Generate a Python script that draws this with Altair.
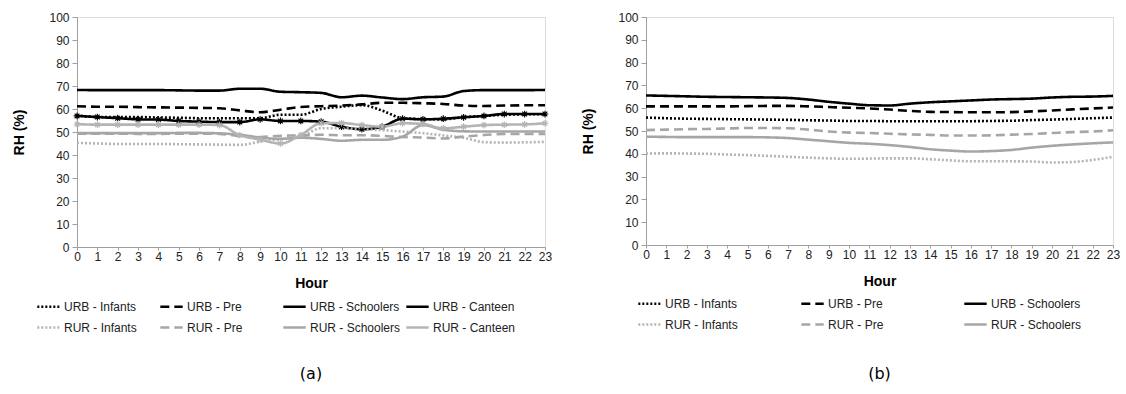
import altair as alt
import pandas as pd

hours = list(range(24))

series_a = ["URB - Infants", "URB - Pre", "URB - Schoolers", "URB - Canteen",
            "RUR - Infants", "RUR - Pre", "RUR - Schoolers", "RUR - Canteen"]
series_b = ["URB - Infants", "URB - Pre", "URB - Schoolers",
            "RUR - Infants", "RUR - Pre", "RUR - Schoolers"]

# Panel (a)
urb_inf_a = [57.3, 56.5, 56.5, 56.5, 56.3, 56.2, 56.0, 56.0, 56.0, 56.0, 57.5, 57.5,
             60.0, 61.0, 61.7, 59.3, 56.0, 55.6, 55.5, 56.4, 57.0, 57.5, 57.7, 57.7]
urb_pre_a = [61.2, 61.0, 61.0, 60.8, 60.7, 60.6, 60.5, 60.3, 59.4, 58.6, 59.7, 60.9,
             61.2, 61.5, 62.0, 62.7, 62.7, 62.5, 62.2, 61.5, 61.3, 61.5, 61.6, 61.6]
urb_sch_a = [68.3, 68.2, 68.2, 68.2, 68.2, 68.1, 68.0, 68.0, 68.8, 68.8, 67.5, 67.3,
             67.0, 65.1, 65.8, 65.0, 64.3, 65.1, 65.4, 67.8, 68.2, 68.2, 68.2, 68.3]
urb_can_a = [57.0, 56.5, 56.0, 55.5, 55.4, 54.8, 54.5, 54.3, 54.3, 55.5, 54.8, 54.8,
             54.5, 52.3, 51.2, 52.3, 55.8, 55.5, 55.8, 56.4, 57.0, 57.8, 57.8, 57.8]
rur_inf_a = [45.3, 45.0, 44.8, 44.8, 44.8, 44.7, 44.6, 44.5, 44.4, 45.8, 46.9, 48.0,
             51.6, 51.6, 51.2, 50.8, 50.2, 49.5, 48.5, 47.5, 45.6, 45.4, 45.5, 45.7]
rur_pre_a = [49.3, 49.3, 49.3, 49.2, 49.2, 49.3, 49.3, 49.2, 48.2, 47.8, 48.4, 48.5,
             48.8, 48.6, 48.6, 48.3, 47.8, 47.6, 47.2, 48.0, 48.7, 49.1, 49.1, 49.1]
rur_sch_a = [49.5, 49.5, 49.5, 49.5, 49.5, 49.6, 49.6, 49.4, 48.8, 47.6, 47.0, 47.5,
             47.0, 46.2, 46.6, 46.6, 48.0, 53.0, 51.0, 50.3, 50.2, 50.2, 50.2, 50.2]
rur_can_a = [53.4, 53.2, 53.2, 53.2, 53.2, 53.2, 53.2, 53.0, 48.6, 46.7, 45.0, 48.7,
             53.8, 53.9, 53.0, 52.3, 53.8, 53.5, 51.6, 52.3, 53.0, 53.2, 53.3, 53.8]

# Panel (b)
urb_inf_b = [55.9, 55.6, 55.4, 55.3, 55.2, 55.1, 55.0, 54.9, 54.7, 54.6, 54.4, 54.4,
             54.3, 54.3, 54.3, 54.3, 54.3, 54.4, 54.5, 54.8, 55.0, 55.3, 55.6, 55.9]
urb_pre_b = [60.8, 60.8, 60.8, 60.8, 60.8, 60.9, 61.0, 61.0, 60.8, 60.5, 60.2, 59.9,
             59.4, 58.8, 58.4, 58.3, 58.2, 58.2, 58.3, 58.6, 59.0, 59.5, 59.9, 60.3]
urb_sch_b = [65.6, 65.4, 65.2, 65.0, 64.9, 64.8, 64.7, 64.5, 63.8, 62.8, 62.0, 61.3,
             61.2, 62.0, 62.6, 63.0, 63.4, 63.8, 64.0, 64.2, 64.7, 65.0, 65.1, 65.4]
rur_inf_b = [40.1, 40.2, 40.1, 40.0, 39.7, 39.4, 39.1, 38.7, 38.3, 38.0, 37.8, 37.9,
             38.0, 38.0, 37.6, 37.1, 36.7, 36.7, 36.7, 36.6, 36.2, 36.4, 37.3, 38.7]
rur_pre_b = [50.4, 50.6, 50.8, 50.9, 51.1, 51.3, 51.3, 51.2, 50.6, 49.8, 49.3, 49.1,
             48.8, 48.5, 48.3, 48.0, 48.0, 48.1, 48.4, 48.7, 49.1, 49.5, 49.8, 50.3]
rur_sch_b = [47.5, 47.4, 47.3, 47.3, 47.3, 47.3, 47.2, 46.9, 46.2, 45.5, 44.8, 44.4,
             43.8, 43.0, 42.0, 41.4, 41.0, 41.2, 41.7, 42.7, 43.5, 44.1, 44.6, 45.0]

BLACK = "#000000"
GRAY = "#a6a6a6"
DOT = [2, 2]
DASH = [9, 5]
SOLID = [1, 0]

style = {
    "URB - Infants": (BLACK, DOT, 2.6),
    "URB - Pre": (BLACK, DASH, 2.6),
    "URB - Schoolers": (BLACK, SOLID, 2.4),
    "URB - Canteen": (BLACK, SOLID, 1.3),
    "RUR - Infants": ("#b4b4b4", DOT, 2.6),
    "RUR - Pre": (GRAY, DASH, 2.6),
    "RUR - Schoolers": (GRAY, SOLID, 2.4),
    "RUR - Canteen": ("#b4b4b4", SOLID, 1.3),
}

def long_df(mapping):
    rows = []
    for name, vals in mapping.items():
        for h, v in zip(hours, vals):
            rows.append({"Hour": h, "RH": v, "series": name})
    return pd.DataFrame(rows)

df_a = long_df({
    "URB - Infants": urb_inf_a, "URB - Pre": urb_pre_a,
    "URB - Schoolers": urb_sch_a, "URB - Canteen": urb_can_a,
    "RUR - Infants": rur_inf_a, "RUR - Pre": rur_pre_a,
    "RUR - Schoolers": rur_sch_a, "RUR - Canteen": rur_can_a,
})
df_b = long_df({
    "URB - Infants": urb_inf_b, "URB - Pre": urb_pre_b,
    "URB - Schoolers": urb_sch_b,
    "RUR - Infants": rur_inf_b, "RUR - Pre": rur_pre_b,
    "RUR - Schoolers": rur_sch_b,
})

FONT = "Liberation Sans"
ASTERISK = "M-1,0L1,0M0,-1L0,1M-0.7,-0.7L0.7,0.7M-0.7,0.7L0.7,-0.7"


def make_legend(legend_x, legend_y, cols, col_pad):
    return alt.Legend(orient="none", legendX=legend_x, legendY=legend_y,
                      columns=cols, direction="horizontal", title=None,
                      symbolType="stroke", symbolSize=500, symbolStrokeWidth=2.5,
                      labelFontSize=12, labelFont=FONT, labelColor="#222222",
                      gridAlign="all", columnPadding=col_pad, rowPadding=2,
                      labelOffset=3, labelLimit=200)


def panel(df, names, w, h, legend_x, legend_y, cols, col_pad, label, title_off, with_points):
    xenc = alt.X("Hour:Q", scale=alt.Scale(domain=[0, 23], nice=False),
                 axis=alt.Axis(values=hours, title="Hour",
                               labelFontSize=12, titleFontSize=14, titleFontWeight="bold",
                               titlePadding=14, labelPadding=1, tickSize=3,
                               grid=False, domainColor="#a0a0a0", tickColor="#a0a0a0",
                               labelColor="#222222", titleColor="#000000",
                               labelFont=FONT, titleFont=FONT, labelFlush=False))
    yenc = alt.Y("RH:Q", scale=alt.Scale(domain=[0, 100], nice=False),
                 axis=alt.Axis(values=list(range(0, 101, 10)), title="RH (%)",
                               labelFontSize=12, titleFontSize=14, titleFontWeight="bold",
                               titlePadding=22, labelPadding=3, tickSize=5,
                               grid=False, domainColor="#a0a0a0", tickColor="#a0a0a0",
                               labelColor="#222222", titleColor="#000000",
                               labelFont=FONT, titleFont=FONT, labelOverlap=False))
    leg = make_legend(legend_x, legend_y, cols, col_pad)
    lines = alt.Chart(df).mark_line(interpolate="monotone", strokeCap="butt").encode(
        x=xenc, y=yenc,
        color=alt.Color("series:N", sort=names,
                        scale=alt.Scale(domain=names, range=[style[n][0] for n in names]),
                        legend=leg),
        strokeDash=alt.StrokeDash("series:N", sort=names,
                                  scale=alt.Scale(domain=names,
                                                  range=[style[n][1] for n in names]),
                                  legend=leg),
        strokeWidth=alt.StrokeWidth("series:N",
                                    scale=alt.Scale(domain=names,
                                                    range=[style[n][2] for n in names]),
                                    legend=None),
        order=alt.Order("Hour:Q"),
    )
    layers = [lines]
    if with_points:
        for name in ["URB - Canteen", "RUR - Canteen"]:
            pts = alt.Chart(df[df["series"] == name]).mark_point(
                shape=ASTERISK, filled=False, size=45, strokeWidth=1.1,
                color=style[name][0], opacity=1).encode(x=xenc, y=yenc)
            layers.append(pts)
    return alt.layer(*layers).properties(
        width=w, height=h,
        title=alt.TitleParams(label, orient="bottom", anchor="middle", fontSize=16,
                              font="DejaVu Sans", fontWeight="normal", offset=title_off,
                              color="#000000"),
    )

left = panel(df_a, series_a, 468, 230, -41, 277, 4, 0, "(a)", 32, True)
right = panel(df_b, series_b, 467, 228, -9, 274, 3, 40, "(b)", 35, False)

chart = alt.hconcat(left, right, spacing=28).resolve_scale(
    color="independent", strokeDash="independent", strokeWidth="independent"
).resolve_legend(
    color="independent", strokeDash="independent"
).properties(
    padding={"left": 12, "top": 10, "right": 5, "bottom": 5}
).configure_view(stroke="#a0a0a0", strokeWidth=1).configure(background="white")

chart.save("out.html", embed_options={"renderer": "svg", "actions": False})
